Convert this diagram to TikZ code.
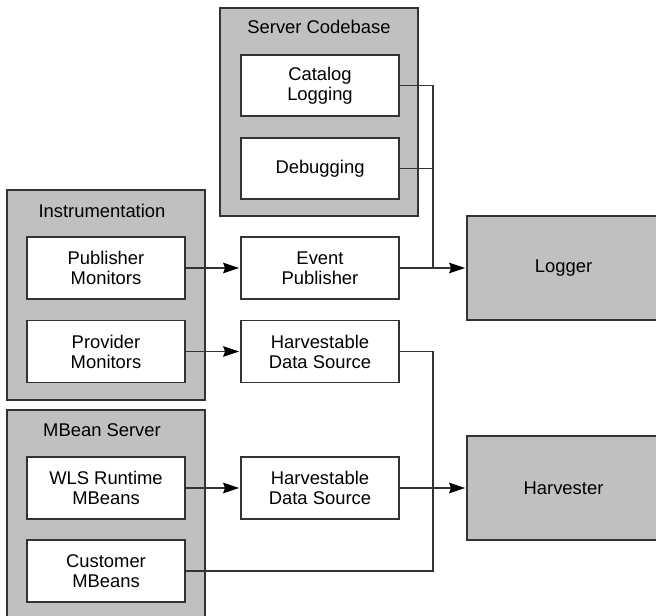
\documentclass[tikz,border=0pt]{standalone}
\usepackage{fontspec}
\setmainfont{Liberation Sans}
\usetikzlibrary{arrows.meta}
\definecolor{boxgray}{HTML}{C0C0C0}
\definecolor{edge}{HTML}{333333}
\begin{document}
\begin{tikzpicture}[x=0.75pt,y=-0.75pt,
  every node/.style={font=\fontsize{13.8}{15}\selectfont, align=center, text=black},
  container/.style={draw=edge, fill=boxgray, line width=0.9pt, minimum width=148.5pt, minimum height=156pt, inner sep=0pt},
  inbox/.style={draw=edge, fill=white, line width=0.9pt, minimum width=118.5pt, minimum height=46.5pt, inner sep=0pt},
  bigbox/.style={draw=edge, fill=boxgray, line width=0.9pt, minimum width=144.75pt, minimum height=78pt, inner sep=0pt},
  title/.style={inner sep=0pt},
  conn/.style={draw=edge, line width=0.8pt},
  arr/.style={conn, -{Stealth[length=12pt,width=8pt,inset=1.5pt,color=black]}, shorten >=1pt}
]
\useasboundingbox (0,0) rectangle (656,616);
% containers
\node[container] (scb) at (319,112) {};
\node[title] (scbt) at (319,27) {Server Codebase};
\node[container, minimum height=157.5pt] (ins) at (106,295) {};
\node[title] (inst) at (102,211) {Instrumentation};
\node[container, minimum height=157.5pt] (mbs) at (106,515) {};
\node[title] (mbst) at (102,430) {MBean Server};
% inner boxes
\node[inbox, minimum height=45.75pt] (cat) at (320,85.5) {Catalog\\Logging};
\node[inbox, minimum height=45.75pt] (deb) at (320,168.5) {Debugging};
\node[inbox] (pub) at (106,268) {Publisher\\Monitors};
\node[inbox] (prov) at (106,351.5) {Provider\\Monitors};
\node[inbox] (wls) at (106,488) {WLS Runtime\\MBeans};
\node[inbox] (cust) at (106,571) {Customer\\MBeans};
\node[inbox] (ep) at (320,268) {Event\\Publisher};
\node[inbox] (hds1) at (320,351.5) {Harvestable\\Data Source};
\node[inbox] (hds2) at (320,488) {Harvestable\\Data Source};
\node[bigbox] (log) at (563.5,268) {Logger};
\node[bigbox] (harv) at (563.5,488) {Harvester};
% junction coordinates
\coordinate (j1) at (433,268);
\coordinate (j2) at (433,488);
% connectors
\draw[conn] (cat.east) -- (cat.east -| j1) -- (j1);
\draw[conn] (deb.east) -- (deb.east -| j1);
\draw[arr] (ep.east) -- (log.west);
\draw[arr] (pub.east) -- (ep.west);
\draw[arr] (prov.east) -- (hds1.west);
\draw[arr] (wls.east) -- (hds2.west);
\draw[conn] (hds1.east) -- (hds1.east -| j2) -- (cust.east -| j2) -- (cust.east);
\draw[arr] (hds2.east) -- (harv.west);
\end{tikzpicture}
\end{document}
